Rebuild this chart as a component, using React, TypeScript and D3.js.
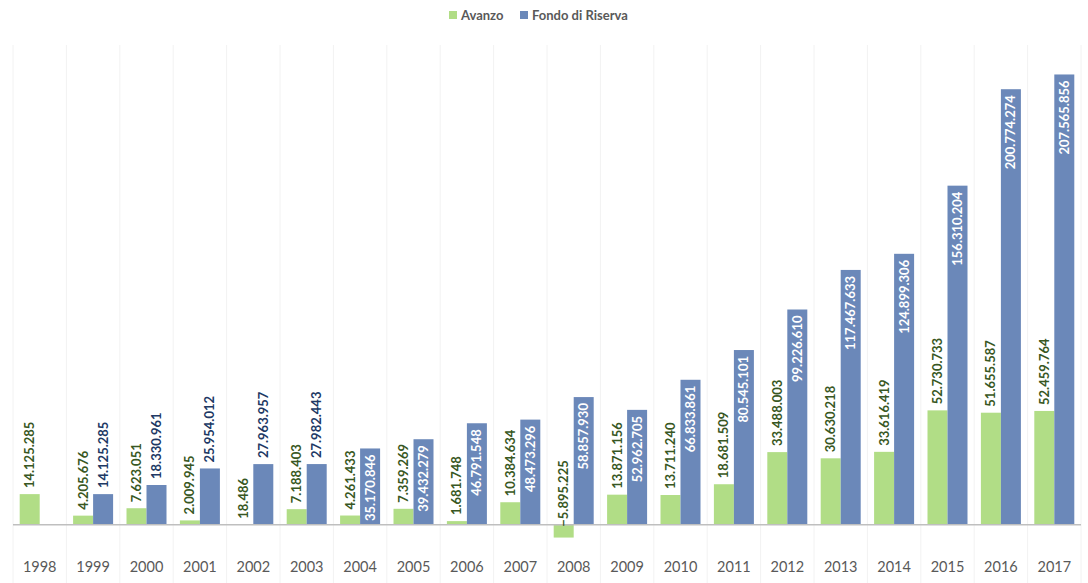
import React, { useEffect, useRef } from 'react'
import * as d3 from 'd3'

const years = ['1998', '1999', '2000', '2001', '2002', '2003', '2004', '2005', '2006', '2007',
  '2008', '2009', '2010', '2011', '2012', '2013', '2014', '2015', '2016', '2017']

const avanzo = [14125285, 4205676, 7623051, 2009945, 18486, 7188403, 4261433, 7359269, 1681748, 10384634,
  -5895225, 13871156, 13711240, 18681509, 33488003, 30630218, 33616419, 52730733, 51655587, 52459764]

const fondo = [null, 14125285, 18330961, 25954012, 27963957, 27982443, 35170846, 39432279, 46791548, 48473296,
  58857930, 52962705, 66833861, 80545101, 99226610, 117467633, 124899306, 156310204, 200774274, 207565856]

const seriesNames = ['Avanzo', 'Fondo di Riserva']
const colors = ['#B1DD86', '#6B88B9']

const W = 1088, H = 583
const FONT = 'Lato, Calibri, "Open Sans", sans-serif'

export default function App() {
  const ref = useRef<SVGSVGElement>(null)

  useEffect(() => {
    const svg = d3.select(ref.current)
    svg.selectAll('*').remove()

    const left = 13, right = 1081, top = 45
    const x = d3.scaleBand().domain(years).range([left, right]).paddingInner(0).paddingOuter(0)
    const x1 = d3.scaleBand().domain(seriesNames).range([0, x.bandwidth()]).paddingOuter(0.335).paddingInner(0)
    const y = d3.scaleLinear().domain([-25000000, 220000000]).range([579, 47.5])

    const it = d3.formatLocale({ decimal: ',', thousands: '.', grouping: [3], currency: ['€', ''] })
    const fmt = it.format(',d')

    // vertical gridlines at category boundaries
    const bounds = years.map(d => x(d)!).concat([right])
    svg.append('g').selectAll('line').data(bounds).enter().append('line')
      .attr('x1', d => d).attr('x2', d => d)
      .attr('y1', top).attr('y2', H)
      .attr('stroke', '#F2F2F2').attr('stroke-width', 1)

    const rows = years.map((yr, i) => ({ yr, vals: [avanzo[i], fondo[i]] }))

    const g = svg.append('g')
    rows.forEach(r => {
      r.vals.forEach((v, si) => {
        if (v === null) return
        const bx = x(r.yr)! + x1(seriesNames[si])!
        const bw = x1.bandwidth()
        const y0 = y(0), yv = y(v)
        g.append('rect')
          .attr('x', bx).attr('width', bw)
          .attr('y', Math.min(y0, yv)).attr('height', Math.abs(yv - y0))
          .attr('fill', colors[si])
      })
    })

    // axis line
    svg.append('line')
      .attr('x1', left).attr('x2', right)
      .attr('y1', y(0)).attr('y2', y(0))
      .attr('stroke', '#BFBFBF').attr('stroke-width', 1.5)

    // data labels
    const lab = svg.append('g').attr('font-family', FONT).attr('font-weight', 700).attr('font-size', 13)
    rows.forEach(r => {
      r.vals.forEach((v, si) => {
        if (v === null) return
        const cx = x(r.yr)! + x1(seriesNames[si])! + x1.bandwidth() / 2 + 4.5
        const y0 = y(0), yv = y(v)
        const h = y0 - yv
        let ty: number, anchor: string, fill: string
        if (si === 0) {
          if (v < 0) { ty = y0 + 2; anchor = 'start' }
          else { ty = yv - 6; anchor = 'start' }
          fill = '#385723'
        } else if (h > 72) {
          ty = yv + 6; anchor = 'end'; fill = '#FFFFFF'
        } else {
          ty = yv - 6; anchor = 'start'; fill = '#203864'
        }
        lab.append('text')
          .attr('transform', `translate(${cx},${ty}) rotate(-90)`)
          .attr('text-anchor', anchor)
          .attr('fill', fill)
          .text(fmt(v))
      })
    })

    // year labels
    svg.append('g').selectAll('text').data(years).enter().append('text')
      .attr('x', d => x(d)! + x.bandwidth() / 2)
      .attr('y', 572)
      .attr('text-anchor', 'middle')
      .attr('font-family', FONT).attr('font-size', 14.5)
      .attr('fill', '#595959')
      .text(d => d)

    // legend
    const legend = svg.append('g').attr('font-family', FONT).attr('font-size', 13).attr('font-weight', 700)
    const lx = [449, 520]
    seriesNames.forEach((n, i) => {
      legend.append('rect').attr('x', lx[i]).attr('y', 11).attr('width', 8).attr('height', 8).attr('fill', colors[i])
      legend.append('text').attr('x', lx[i] + 12).attr('y', 19.5).attr('fill', '#595959').text(n)
    })
  }, [])

  return (
    <svg ref={ref} width={W} height={H} style={{ position: 'absolute', left: 0, top: 0, background: '#fff' }} />
  )
}
